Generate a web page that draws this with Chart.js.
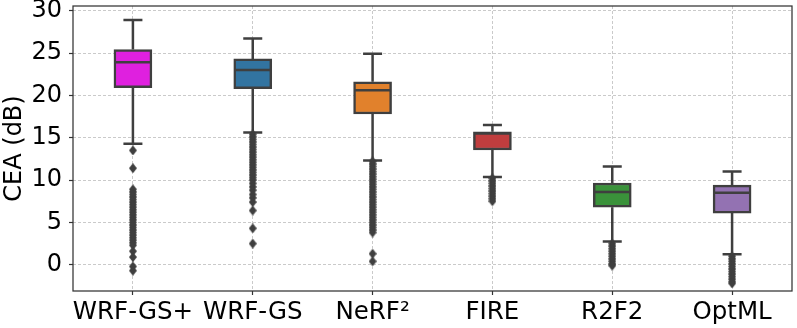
<!DOCTYPE html>
<html>
<head>
<meta charset="utf-8">
<script src="https://cdn.jsdelivr.net/npm/chart.js@4.4.0/dist/chart.umd.min.js"></script>
<style>
  html, body { margin: 0; padding: 0; background: #fff; }
  canvas { display: block; }
</style>
</head>
<body>
<canvas id="boxChart" width="797" height="328"></canvas>
<script>
const methods = ['WRF-GS+', 'WRF-GS', 'NeRF²', 'FIRE', 'R2F2', 'OptML'];
const boxColors = ['#df20df', '#3274a1', '#e1812c', '#c03d3e', '#3a923a', '#9372b2'];

// box statistics (dB)
const whiskerLow = [14.3, 15.6, 12.3, 10.35, 2.75, 1.25];
const q1 = [20.9, 20.8, 17.8, 13.55, 6.8, 6.1];
const median = [23.9, 23.0, 20.6, 15.5, 8.6, 8.5];
const q3 = [25.4, 24.3, 21.6, 15.7, 9.65, 9.4];
const whiskerHigh = [28.9, 26.7, 24.9, 16.5, 11.6, 11.0];

// outliers (estimated)
const outWrfGsPlus = [13.5, 11.4, 8.9, 8.6, 8.3, 8.0, 7.7, 7.4, 7.1, 6.8, 6.5, 6.2, 5.9, 5.6, 5.3, 5.0,
  4.7, 4.4, 4.1, 3.8, 3.5, 3.2, 2.9, 2.6, 2.3, 1.6, 0.9, -0.2, -0.7];
const outWrfGs = [15.4, 15.1, 14.8, 14.5, 14.2, 13.9, 13.6, 13.3, 13.0, 12.7, 12.4, 12.1, 11.8, 11.5,
  11.2, 10.9, 10.6, 10.3, 10.0, 9.6, 9.2, 8.8, 8.3, 7.9, 7.4, 6.4, 4.3, 2.5];
const outNerf2 = [12.2, 11.9, 11.6, 11.3, 11.0, 10.7, 10.4, 10.1, 9.8, 9.5, 9.2, 8.9, 8.6, 8.3, 8.0,
  7.7, 7.4, 7.1, 6.8, 6.5, 6.2, 5.9, 5.6, 5.3, 5.0, 4.7, 4.4, 4.1, 3.8, 1.3, 0.4];
const outFire = [10.2, 9.9, 9.6, 9.3, 9.0, 8.7, 8.4, 8.1, 7.8, 7.5];
const outR2f2 = [2.5, 2.2, 1.9, 1.6, 1.3, 1.0, 0.7, 0.4, 0.1, -0.1];
const outOptml = [1.0, 0.7, 0.4, 0.1, -0.2, -0.5, -0.8, -1.1, -1.4, -1.7, -2.0, -2.2];
const outliers = [outWrfGsPlus, outWrfGs, outNerf2, outFire, outR2f2, outOptml];

const yTicks = [0, 5, 10, 15, 20, 25, 30];

const FONT = 'DejaVu Sans';
const EDGE = '#3f3f3f';

// thin diamond marker like matplotlib's 'd'
const diamond = document.createElement('canvas');
diamond.width = 8;
diamond.height = 10;
const dctx = diamond.getContext('2d');
dctx.fillStyle = EDGE;
dctx.beginPath();
dctx.moveTo(4, 0); dctx.lineTo(8, 5); dctx.lineTo(4, 10); dctx.lineTo(0, 5);
dctx.closePath();
dctx.fill();

const boxParts = {
  id: 'boxParts',
  beforeDatasetsDraw(chart) {
    const { ctx, scales: { x, y } } = chart;
    ctx.save();
    ctx.strokeStyle = EDGE;
    ctx.lineWidth = 2.5;
    methods.forEach((m, i) => {
      const cx = x.getPixelForValue(i);
      const cap = 9.5;
      const yHi = y.getPixelForValue(whiskerHigh[i]);
      const yLo = y.getPixelForValue(whiskerLow[i]);
      ctx.beginPath();
      ctx.moveTo(cx, y.getPixelForValue(q3[i])); ctx.lineTo(cx, yHi);
      ctx.moveTo(cx, y.getPixelForValue(q1[i])); ctx.lineTo(cx, yLo);
      ctx.moveTo(cx - cap, yHi); ctx.lineTo(cx + cap, yHi);
      ctx.moveTo(cx - cap, yLo); ctx.lineTo(cx + cap, yLo);
      ctx.stroke();
    });
    ctx.restore();
  },
  afterDatasetsDraw(chart) {
    const { ctx, scales: { x, y } } = chart;
    ctx.save();
    ctx.strokeStyle = EDGE;
    ctx.lineWidth = 2.5;
    methods.forEach((m, i) => {
      const cx = x.getPixelForValue(i);
      const my = y.getPixelForValue(median[i]);
      ctx.beginPath();
      ctx.moveTo(cx - 18, my); ctx.lineTo(cx + 18, my);
      ctx.stroke();
    });
    ctx.restore();
  },
  afterDraw(chart) {
    const { ctx, chartArea: a } = chart;
    ctx.save();
    ctx.strokeStyle = '#333';
    ctx.lineWidth = 1.25;
    ctx.strokeRect(a.left, a.top, a.right - a.left, a.bottom - a.top);
    ctx.restore();
  }
};

const ctx = document.getElementById('boxChart').getContext('2d');
const boxChart = new Chart(ctx, {
  type: 'bar',
  data: {
    labels: methods,
    datasets: [{
      type: 'scatter',
      data: outliers.flatMap((vals, i) => vals.map(v => ({ x: methods[i], y: v }))),
      pointStyle: diamond,
      pointRadius: 4,
      order: 0
    }, {
      data: methods.map((m, i) => [q1[i], q3[i]]),
      backgroundColor: boxColors,
      borderColor: EDGE,
      borderWidth: 2.5,
      borderSkipped: false,
      barThickness: 38,
      order: 1
    }]
  },
  options: {
    responsive: false,
    animation: false,
    devicePixelRatio: 1,
    layout: { padding: { top: 6, right: 3, left: 0, bottom: 0 } },
    plugins: { legend: { display: false }, tooltip: { enabled: false } },
    scales: {
      x: {
        type: 'category',
        offset: true,
        z: 1,
        afterFit(scale) {
          scale.height = 37;
          scale.paddingLeft = 0;
          scale.paddingRight = 0;
        },
        grid: {
          offset: false,
          color: 'rgba(180,180,180,0.7)',
          lineWidth: 1,
          tickColor: '#333',
          tickWidth: 1.2,
          tickLength: 4
        },
        border: { display: false, dash: [3, 2] },
        ticks: { color: '#000', font: { family: FONT, size: 24.5 }, padding: 3, maxRotation: 0, autoSkip: false }
      },
      y: {
        min: -3.1,
        max: 30.55,
        z: 1,
        afterFit(scale) {
          scale.width = 73;
          scale.paddingTop = 0;
          scale.paddingBottom = 0;
        },
        afterBuildTicks(scale) { scale.ticks = yTicks.map(v => ({ value: v })); },
        grid: {
          color: 'rgba(180,180,180,0.7)',
          lineWidth: 1,
          tickColor: '#333',
          tickWidth: 1.2,
          tickLength: 4
        },
        border: { display: false, dash: [3, 2] },
        ticks: { color: '#000', font: { family: FONT, size: 24 }, padding: 7 },
        title: {
          display: true,
          text: 'CEA (dB)',
          color: '#000',
          font: { family: FONT, size: 24 },
          padding: { top: 0, bottom: 0 }
        }
      }
    }
  },
  plugins: [boxParts]
});
</script>
</body>
</html>
